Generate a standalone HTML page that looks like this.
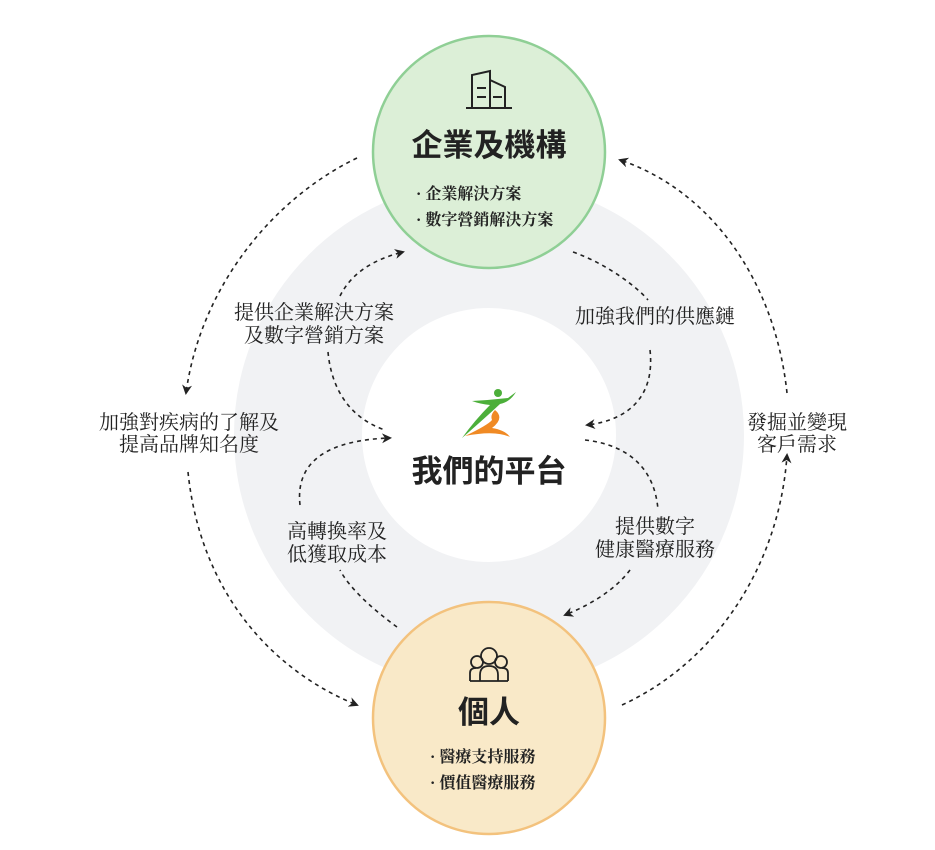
<!DOCTYPE html>
<html><head><meta charset="utf-8"><style>
body{margin:0;background:#fff;width:935px;height:850px;overflow:hidden}
svg{display:block}
.lb{font-family:"Liberation Serif","Noto Serif CJK SC",serif;font-size:20px;fill:#222}
.tt{font-family:"Liberation Sans","Noto Sans CJK TC",sans-serif;font-size:31px;font-weight:bold;fill:#222}
.sb{font-family:"Liberation Serif","Noto Serif CJK SC",serif;font-size:16px;font-weight:bold;fill:#222}
.d{fill:none;stroke:#222;stroke-width:1.6;stroke-dasharray:4 4}
</style></head><body>
<svg width="935" height="850" viewBox="0 0 935 850">
<defs><marker id="a" markerWidth="10" markerHeight="10" refX="8" refY="5" orient="auto" markerUnits="userSpaceOnUse"><path d="M0,0 L10,5 L0,10 L3,5 Z" fill="#222"/></marker></defs>
<circle cx="489" cy="435" r="191" fill="none" stroke="#f1f2f4" stroke-width="128"/>
<!-- outer arrows -->
<path class="d" d="M357,158 C270,200 200,290 186,393" marker-end="url(#a)"/>
<path class="d" d="M188,472 C200,590 270,670 357,705" marker-end="url(#a)"/>
<path class="d" d="M622,705 C720,660 780,560 787,455" marker-end="url(#a)"/>
<path class="d" d="M787,393 C775,280 710,190 620,160" marker-end="url(#a)"/>
<!-- inner arrows -->
<path class="d" d="M340,296 C352,272 375,259 403,252" marker-end="url(#a)"/>
<path class="d" d="M328,352 C332,395 355,420 385,430"/>
<path class="d" d="M573,252 C610,265 640,290 648,300"/>
<path class="d" d="M650,350 C655,395 630,420 587,425" marker-end="url(#a)"/>
<path class="d" d="M397,627 C360,600 345,580 340,570"/>
<path class="d" d="M300,505 C295,460 330,440 390,438" marker-end="url(#a)"/>
<path class="d" d="M585,440 C630,445 655,470 658,510"/>
<path class="d" d="M630,570 C615,590 590,605 565,615" marker-end="url(#a)"/>
<!-- circles -->
<circle cx="489" cy="152" r="116" fill="#dcefd7" stroke="#8fcf95" stroke-width="2.5"/>
<circle cx="489" cy="718" r="116" fill="#f9e9c8" stroke="#f3c27d" stroke-width="2.5"/>
<!-- building icon -->
<g fill="none" stroke="#222" stroke-width="2">
<path d="M472,108 V75 L490,71 V108 M490,80 L505,87 V108 M466,108 H512 M477,88 H486 M477,97 H486 M493,97 H502"/>
</g>
<text class="tt" x="489" y="156" text-anchor="middle">企業及機構</text>
<text class="sb" x="416" y="199">· 企業解決方案</text>
<text class="sb" x="416" y="225">· 數字營銷解決方案</text>
<!-- people icon -->
<g fill="none" stroke="#222" stroke-width="1.8">
<circle cx="489" cy="656" r="8"/><circle cx="477" cy="662" r="6"/><circle cx="501" cy="662" r="6"/>
<path d="M470,681 V673 Q470,668 476,668 M508,681 V673 Q508,668 502,668 M480,681 V675 Q480,666 489,666 Q498,666 498,675 V681 Z M470,681 H508"/>
</g>
<text class="tt" x="489" y="723" text-anchor="middle">個人</text>
<text class="sb" x="430" y="762">· 醫療支持服務</text>
<text class="sb" x="430" y="788">· 價值醫療服務</text>
<!-- logo -->
<path d="M472,401 Q490,400 508,398 L516,392 Q510,402 500,404 Q485,418 462,438 Q475,420 490,405 Q480,404 472,401 Z" fill="#4caf3a"/>
<circle cx="498" cy="393" r="4" fill="#4caf3a"/>
<path d="M495,410 Q505,418 492,428 Q505,430 510,437 Q495,430 465,436 Q488,425 492,420 Q490,415 495,410 Z" fill="#f08a24"/>
<text class="tt" x="489" y="482" text-anchor="middle">我們的平台</text>
<!-- labels -->
<text class="lb" x="314" y="319" text-anchor="middle">提供企業解決方案</text>
<text class="lb" x="314" y="342" text-anchor="middle">及數字營銷方案</text>
<text class="lb" x="655" y="323" text-anchor="middle">加強我們的供應鏈</text>
<text class="lb" x="189" y="429" text-anchor="middle">加強對疾病的了解及</text>
<text class="lb" x="189" y="451" text-anchor="middle">提高品牌知名度</text>
<text class="lb" x="797" y="429" text-anchor="middle">發掘並變現</text>
<text class="lb" x="797" y="451" text-anchor="middle">客戶需求</text>
<text class="lb" x="337" y="538" text-anchor="middle">高轉換率及</text>
<text class="lb" x="337" y="561" text-anchor="middle">低獲取成本</text>
<text class="lb" x="655" y="533" text-anchor="middle">提供數字</text>
<text class="lb" x="655" y="556" text-anchor="middle">健康醫療服務</text>
</svg>
</body></html>
